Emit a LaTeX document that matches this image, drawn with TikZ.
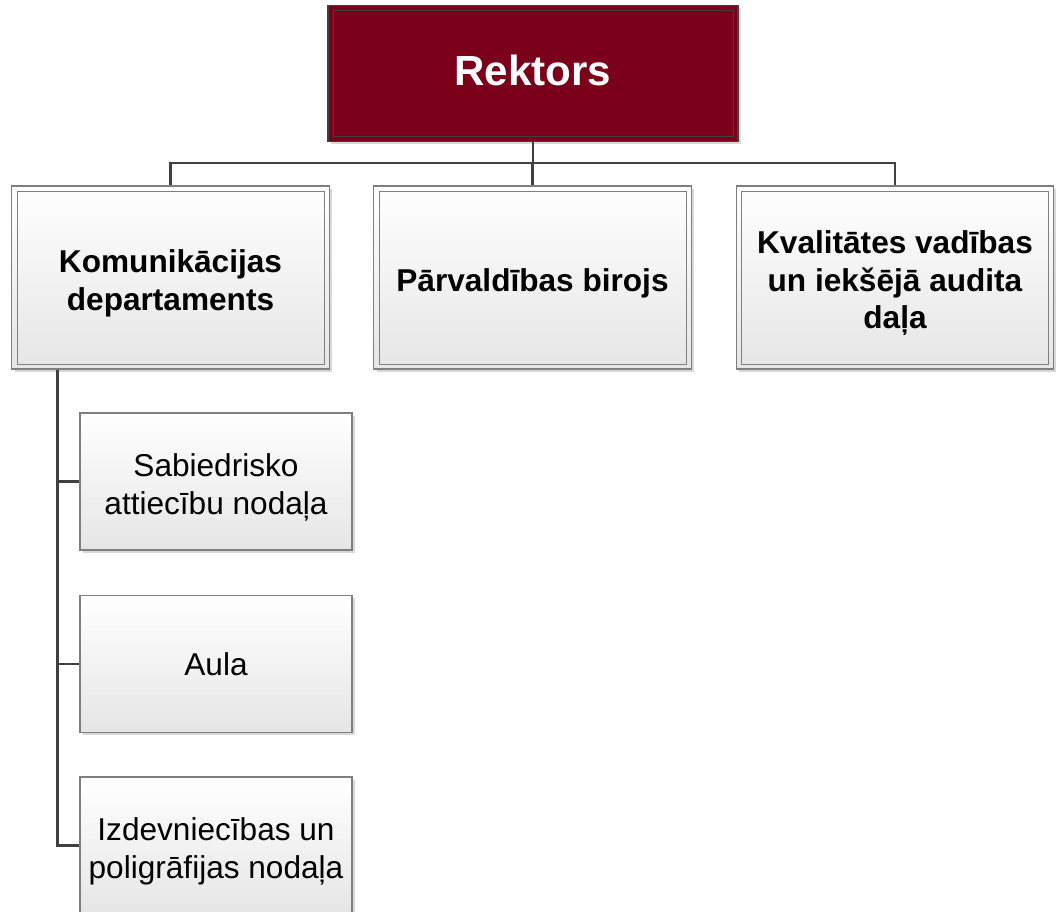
\documentclass[tikz,border=0pt]{standalone}
\usepackage{fontspec}
\setmainfont{Liberation Sans}
\usepackage{tikz}
\usetikzlibrary{calc,positioning,shadows}

\definecolor{rektred}{HTML}{7B0019}
\definecolor{linegray}{HTML}{404040}
\definecolor{boxgray}{HTML}{7F7F7F}
\newcommand{\topgap}{\rule{0pt}{26pt}}

\tikzset{
	boxshadow/.style={drop shadow={shadow xshift=2.2pt, shadow yshift=-2.2pt, fill=black!30, opacity=0.5}},
	innerline/.style={path picture={\draw[#1, line width=0.6pt]
		([shift={(3.8pt,-3.8pt)}]path picture bounding box.north west) rectangle
		([shift={(-3.8pt,3.8pt)}]path picture bounding box.south east);}},
	topbox/.style={draw=linegray, line width=1pt, fill=rektred, text=white, boxshadow,
		innerline=linegray, minimum width=307.5pt, minimum height=102pt,
		execute at begin node={\rule[-4.5pt]{0pt}{4.5pt}},
		font=\bfseries\fontsize{31.6pt}{36pt}\selectfont},
	deptbox/.style={draw=boxgray, line width=0.8pt, shading=axis, top color=white, bottom color=black!10,
		boxshadow, innerline=boxgray, minimum width=238pt, minimum height=137.25pt, align=center,
		font=\bfseries\fontsize{23.7pt}{28pt}\selectfont},
	unitbox/.style={draw=boxgray, line width=0.8pt, shading=axis, top color=white, bottom color=black!10,
		boxshadow, minimum width=204pt, minimum height=102.75pt, align=center,
		font=\fontsize{23.7pt}{28.5pt}\selectfont},
	conn/.style={draw=linegray, line width=1.9pt}
}

\begin{document}
\begin{tikzpicture}[x=0.75pt, y=-0.75pt]
	\useasboundingbox (0,0) rectangle (1056,912);

	% Place nodes
	\node [topbox] (rektors) at (533,73.5) {Rektors};
	\node [deptbox] (komunikacijas) at (170.5,277.5) {\topgap Komunikācijas\\departaments};
	\node [deptbox] (parvaldibas) at (532.5,277.5) {\topgap Pārvaldības birojs};
	\node [deptbox] (kvalitates) at (895,277.5) {\topgap Kvalitātes vadības\\un iekšējā audita\\daļa};
	\node [unitbox] (sabiedrisko) at (216,481.5) {\topgap Sabiedrisko\\attiecību nodaļa};
	\node [unitbox] (aula) at (216,664) {Aula};
	\node [unitbox] (izdevniecibas) at (216,845.5) {\topgap Izdevniecības un\\poligrāfijas nodaļa};

	% Draw edges
	\coordinate (bus) at ($(rektors.south)+(0,21)$);
	\coordinate (spine) at ([xshift=34.5pt]komunikacijas.south west);
	\draw [conn] (rektors.south) -- (bus);
	\draw [conn] (bus) -| (komunikacijas.north);
	\draw [conn] (bus) -| (kvalitates.north);
	\draw [conn] (bus) -- (bus -| parvaldibas.north) -- (parvaldibas.north);
	\draw [conn] (spine) |- (sabiedrisko.west);
	\draw [conn] (spine) |- (aula.west);
	\draw [conn] (spine) |- (izdevniecibas.west);
\end{tikzpicture}
\end{document}
